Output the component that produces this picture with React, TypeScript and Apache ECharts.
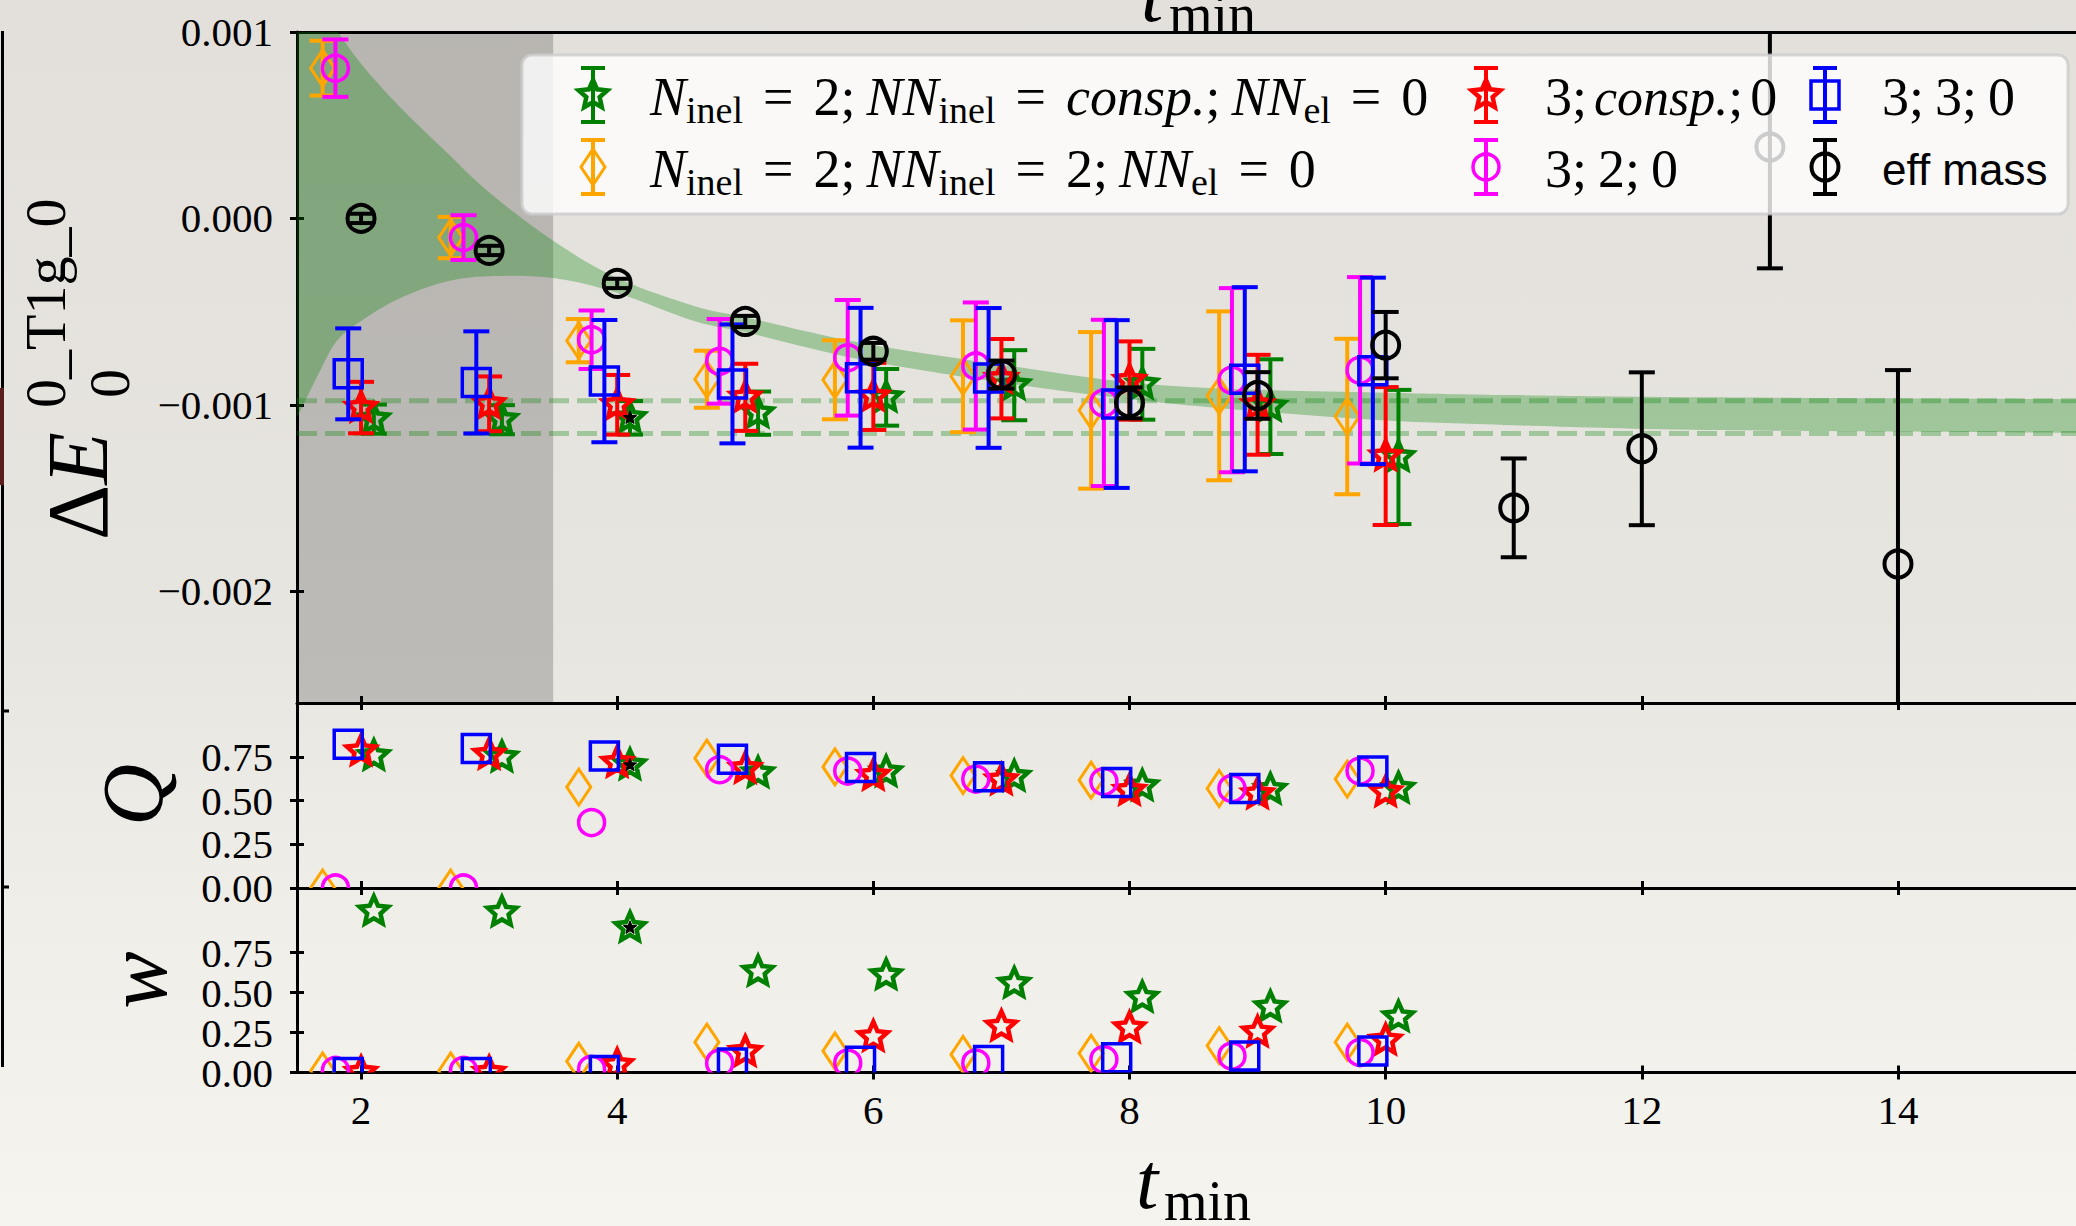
import React, { useEffect, useRef } from "react";
import * as echarts from "echarts";

// ---------------- data ----------------
const tFit = [2, 3, 4, 5, 6, 7, 8, 9, 10];
const tEff = [2, 3, 4, 5, 6, 7, 8, 9, 10, 11, 12, 13, 14];
const xTicks = [2, 4, 6, 8, 10, 12, 14];
const eTicks = [-0.002, -0.001, 0, 0.001];
const qwTicks = [0, 0.25, 0.5, 0.75];
const qwLabelsA = [0, 0.5];
const qwLabelsB = [0.25, 0.75];

// Delta E (main panel) values and errors
const eGreen = [-1.077e-3, -1.08e-3, -1.07e-3, -1.045e-3, -0.96e-3, -0.895e-3, -0.89e-3, -1.01e-3, -1.28e-3];
const errGreen = [0.078e-3, 0.078e-3, 0.09e-3, 0.116e-3, 0.152e-3, 0.188e-3, 0.19e-3, 0.254e-3, 0.36e-3];
const eOrange = [0.806e-3, -0.103e-3, -0.656e-3, -0.863e-3, -0.866e-3, -0.847e-3, -1.03e-3, -0.952e-3, -1.063e-3];
const errOrange = [0.147e-3, 0.111e-3, 0.116e-3, 0.153e-3, 0.212e-3, 0.3e-3, 0.42e-3, 0.453e-3, 0.417e-3];
const eRed = [-1.015e-3, -0.995e-3, -1.0e-3, -0.96e-3, -0.955e-3, -0.86e-3, -0.87e-3, -1.0e-3, -1.275e-3];
const errRed = [0.138e-3, 0.147e-3, 0.16e-3, 0.18e-3, 0.18e-3, 0.213e-3, 0.21e-3, 0.268e-3, 0.37e-3];
const eMagenta = [0.806e-3, -0.103e-3, -0.651e-3, -0.767e-3, -0.748e-3, -0.792e-3, -0.99e-3, -0.868e-3, -0.815e-3];
const errMagenta = [0.154e-3, 0.12e-3, 0.157e-3, 0.227e-3, 0.31e-3, 0.341e-3, 0.446e-3, 0.494e-3, 0.5e-3];
const eBlue = [-0.834e-3, -0.88e-3, -0.873e-3, -0.888e-3, -0.855e-3, -0.856e-3, -0.996e-3, -0.863e-3, -0.818e-3];
const errBlue = [0.244e-3, 0.274e-3, 0.328e-3, 0.319e-3, 0.375e-3, 0.375e-3, 0.45e-3, 0.494e-3, 0.5e-3];
const eEff = [0.0, -0.172e-3, -0.349e-3, -0.553e-3, -0.713e-3, -0.838e-3, -0.99e-3, -0.95e-3, -0.68e-3, -1.553e-3, -1.236e-3, 0.383e-3, -1.854e-3];
const errEff = [0.025e-3, 0.025e-3, 0.025e-3, 0.03e-3, 0.045e-3, 0.075e-3, 0.083e-3, 0.125e-3, 0.178e-3, 0.265e-3, 0.41e-3, 0.651e-3, 1.04e-3];

// Q panel
const qGreen = [0.757, 0.749, 0.704, 0.658, 0.664, 0.638, 0.584, 0.564, 0.57];
const qOrange = [0.0, 0.0, 0.578, 0.744, 0.694, 0.644, 0.618, 0.57, 0.624];
const qRed = [0.784, 0.764, 0.718, 0.684, 0.644, 0.618, 0.558, 0.538, 0.55];
const qMagenta = [0.0, 0.0, 0.375, 0.678, 0.67, 0.624, 0.61, 0.57, 0.67];
const qBlue = [0.823, 0.8, 0.757, 0.738, 0.69, 0.638, 0.604, 0.57, 0.67];

// w panel
const wGreen = [1.009, 1.002, 0.906, 0.631, 0.609, 0.557, 0.469, 0.409, 0.347];
const wOrange = [0.01, 0.01, 0.07, 0.19, 0.135, 0.113, 0.12, 0.168, 0.19];
const wRed = [0.0, 0.0, 0.048, 0.13, 0.223, 0.288, 0.278, 0.251, 0.201];
const wMagenta = [0.013, 0.013, 0.02, 0.059, 0.059, 0.059, 0.081, 0.103, 0.125];
const wBlue = [0.0, 0.0, 0.013, 0.06, 0.07, 0.075, 0.092, 0.103, 0.135];

// chosen fit (small black star)
const chosenT = [4];
const chosenE = [-1.07e-3];
const chosenQ = [0.704];
const chosenW = [0.906];

// fit band
const bandT = [1.5, 1.7, 1.82, 2.0, 2.3, 2.66, 3.0, 3.5, 4.0, 4.6, 5.0, 5.5, 6.0, 7.0, 8.0, 9.0, 10.0, 11.0, 12.5, 15.4];
const bandHi = [1.35e-3, 1.12e-3, 1.0e-3, 0.83e-3, 0.6e-3, 0.36e-3, 0.14e-3, -0.12e-3, -0.32e-3, -0.47e-3, -0.53e-3, -0.61e-3, -0.68e-3, -0.785e-3, -0.88e-3, -0.92e-3, -0.935e-3, -0.948e-3, -0.96e-3, -0.97e-3];
const bandLo = [-1.07e-3, -0.79e-3, -0.65e-3, -0.55e-3, -0.43e-3, -0.34e-3, -0.31e-3, -0.32e-3, -0.4e-3, -0.55e-3, -0.61e-3, -0.695e-3, -0.77e-3, -0.88e-3, -0.97e-3, -1.035e-3, -1.085e-3, -1.11e-3, -1.135e-3, -1.15e-3];
const plateau = [-0.979e-3, -1.154e-3];
const shadeRange = [1.5, 3.5];

const X_MIN = 1.5;
const X_MAX = 15.39;

// ---------------- styling ----------------
const SERIF = "Liberation Serif";
const fits = [
  { name: "N_inel = 2; NN_inel = consp.; NN_el = 0", color: "#008000", marker: "star", dx: 0.1, e: eGreen, err: errGreen, q: qGreen, w: wGreen,
    label: "{i|N}{s|inel}{e|=}{r|2;}{ip|NN}{s|inel}{e|=}{i|consp.}{r|;}{ip|NN}{s|el}{e|=}{r|0}", lx: 593, ly: 95, tx: 650 },
  { name: "N_inel = 2; NN_inel = 2; NN_el = 0", color: "#ffa500", marker: "diamond", dx: -0.3, e: eOrange, err: errOrange, q: qOrange, w: wOrange,
    label: "{i|N}{s|inel}{e|=}{r|2;}{ip|NN}{s|inel}{e|=}{r|2;}{ip|NN}{s|el}{e|=}{r|0}", lx: 593, ly: 167, tx: 650 },
  { name: "3; consp.; 0", color: "#ff0000", marker: "star", dx: 0, e: eRed, err: errRed, q: qRed, w: wRed,
    label: "{r|3;}{ic|consp.}{r|;}{rc|0}", lx: 1486, ly: 95, tx: 1545 },
  { name: "3; 2; 0", color: "#ff00ff", marker: "circle", dx: -0.2, e: eMagenta, err: errMagenta, q: qMagenta, w: wMagenta,
    label: "{r|3;}{rp|2;}{rp|0}", lx: 1486, ly: 167, tx: 1545 },
  { name: "3; 3; 0", color: "#0000ff", marker: "square", dx: -0.1, e: eBlue, err: errBlue, q: qBlue, w: wBlue,
    label: "{r|3;}{rp|3;}{rp|0}", lx: 1825, ly: 95, tx: 1882 },
];
const effEntry = { name: "eff mass", color: "#000000", marker: "circleK", label: "{sans|eff mass}", lx: 1825, ly: 167, tx: 1882 };

function starPoints(cx: number, cy: number, R: number, r: number) {
  const pts: number[][] = [];
  for (let k = 0; k < 10; k++) {
    const a = -Math.PI / 2 + (k * Math.PI) / 5;
    const rad = k % 2 === 0 ? R : r;
    pts.push([cx + rad * Math.cos(a), cy + rad * Math.sin(a)]);
  }
  return pts;
}

function markerEl(kind: string, cx: number, cy: number, color: string, z?: number) {
  const s: any = { fill: "none", stroke: color, lineWidth: 3.5 };
  let el: any;
  if (kind === "circle") el = { type: "circle", shape: { cx, cy, r: 13 }, style: s };
  else if (kind === "circleK") el = { type: "circle", shape: { cx, cy, r: 13.5 }, style: { ...s, lineWidth: 4 } };
  else if (kind === "square") el = { type: "rect", shape: { x: cx - 14, y: cy - 14, width: 28, height: 28 }, style: s };
  else if (kind === "diamond") el = { type: "polygon", shape: { points: [[cx, cy - 18], [cx + 12, cy], [cx, cy + 18], [cx - 12, cy]] }, style: { ...s, lineWidth: 3 } };
  else if (kind === "star") el = { type: "polygon", shape: { points: starPoints(cx, cy, 15, 7) }, style: { ...s, lineWidth: 4.5, lineJoin: "miter" } };
  else el = { type: "polygon", shape: { points: starPoints(cx, cy, 7, 3) }, style: { fill: "#000", stroke: "#000", lineWidth: 1 } };
  if (z != null) el.z = z;
  return el;
}

function makeRender(color: string, kind: string, withErr: boolean) {
  return (params: any, api: any) => {
    const x = api.value(0);
    const y = api.value(1);
    const c = api.coord([x, y]);
    const cs = params.coordSys;
    const children: any[] = [];
    if (withErr) {
      const e = api.value(2);
      const pt = api.coord([x, y + e]);
      const pb = api.coord([x, y - e]);
      const top = Math.max(cs.y, pt[1]);
      const bot = Math.min(cs.y + cs.height, pb[1]);
      const ls = { stroke: color, lineWidth: 4 };
      children.push({ type: "line", shape: { x1: c[0], y1: top, x2: c[0], y2: bot }, style: ls });
      if (pt[1] >= cs.y) children.push({ type: "line", shape: { x1: c[0] - 13, y1: pt[1], x2: c[0] + 13, y2: pt[1] }, style: ls });
      if (pb[1] <= cs.y + cs.height) children.push({ type: "line", shape: { x1: c[0] - 13, y1: pb[1], x2: c[0] + 13, y2: pb[1] }, style: ls });
    }
    children.push(markerEl(kind, c[0], c[1], color));
    return { type: "group", children };
  };
}

function smoothSegs(pts: number[][]) {
  let d = "";
  for (let i = 0; i < pts.length - 1; i++) {
    const p0 = pts[i - 1] || pts[i];
    const p1 = pts[i];
    const p2 = pts[i + 1];
    const p3 = pts[i + 2] || pts[i + 1];
    const c1 = [p1[0] + (p2[0] - p0[0]) / 6, p1[1] + (p2[1] - p0[1]) / 6];
    const c2 = [p2[0] - (p3[0] - p1[0]) / 6, p2[1] - (p3[1] - p1[1]) / 6];
    d += ` C${c1[0]},${c1[1]} ${c2[0]},${c2[1]} ${p2[0]},${p2[1]}`;
  }
  return d;
}

function bandRender(params: any, api: any) {
  if (params.dataIndex !== 0) return null;
  const up = bandT.map((t, i) => api.coord([t, bandHi[i]]));
  const lo = bandT.map((t, i) => api.coord([t, bandLo[i]])).reverse();
  let d = `M${up[0][0]},${up[0][1]}` + smoothSegs(up);
  d += ` L${lo[0][0]},${lo[0][1]}` + smoothSegs(lo) + " Z";
  return { type: "path", shape: { pathData: d }, style: { fill: "rgba(0,128,0,0.3)", stroke: "none" } };
}

const lineStyleK = { color: "#000", width: 3 };

function mkX(gridIndex: number, position: string, showLine: boolean, tick: string, showLabel: boolean) {
  return {
    type: "value", gridIndex, position, min: X_MIN, max: X_MAX,
    splitLine: { show: false },
    axisLine: { show: showLine, onZero: false, lineStyle: lineStyleK },
    axisTick: { show: tick !== "none", inside: tick === "in", length: 7, customValues: xTicks, lineStyle: lineStyleK },
    axisLabel: {
      show: showLabel, customValues: xTicks, margin: 17, color: "#000", fontFamily: SERIF, fontSize: 41,
      showMinLabel: true, showMaxLabel: true, hideOverlap: false, interval: 0,
      formatter: (v: number) => String(v),
    },
  };
}

function mkY(gridIndex: number, min: number, max: number, ticks: number[], tick: string, labels: number[] | null, fmt: any) {
  return {
    type: "value", gridIndex, position: "left", min, max,
    splitLine: { show: false },
    axisLine: { show: tick === "out", onZero: false, lineStyle: lineStyleK },
    axisTick: { show: true, inside: tick === "in", length: 7, customValues: ticks, lineStyle: lineStyleK },
    axisLabel: {
      show: !!labels, customValues: labels || ticks, inside: false, margin: 24, color: "#000", fontFamily: SERIF, fontSize: 41,
      showMinLabel: true, showMaxLabel: true, hideOverlap: false, interval: 0, formatter: fmt,
    },
  };
}

const fmtE = (v: number) => (Math.abs(v) < 1e-12 ? "0.000" : (v < 0 ? "\u2212" : "") + Math.abs(v).toFixed(3));
const fmtQ = (v: number) => v.toFixed(2);

function buildOption() {
  const series: any[] = [];

  // dashed plateau lines + shaded excluded region
  plateau.forEach((p, k) => {
    series.push({
      type: "line", xAxisIndex: 0, yAxisIndex: 0, silent: true, symbol: "none", showSymbol: false,
      data: [[X_MIN, p], [X_MAX, p]],
      lineStyle: { color: "rgba(0,128,0,0.3)", width: 5, type: [20, 8] },
      z: 2,
      markArea: k === 0 ? {
        silent: true, itemStyle: { color: "rgba(0,0,0,0.19)" },
        data: [[{ xAxis: shadeRange[0] }, { xAxis: shadeRange[1] }]],
      } : undefined,
    });
  });

  // fit band
  series.push({
    type: "custom", name: "fit band", xAxisIndex: 0, yAxisIndex: 0, clip: true, silent: true, z: 2,
    data: bandT.map((t, i) => [t, bandHi[i], bandLo[i]]),
    encode: { x: 0, y: 1 },
    renderItem: bandRender,
  });

  fits.forEach((f) => {
    series.push({
      type: "custom", name: f.name, xAxisIndex: 0, yAxisIndex: 0, clip: true, silent: true, z: 3,
      data: tFit.map((t, i) => [t + f.dx, f.e[i], f.err[i]]), encode: { x: 0, y: 1 },
      renderItem: makeRender(f.color, f.marker, true),
    });
    series.push({
      type: "custom", name: f.name + " Q", xAxisIndex: 3, yAxisIndex: 2, clip: true, silent: true, z: 3,
      data: tFit.map((t, i) => [t + f.dx, f.q[i]]), encode: { x: 0, y: 1 },
      renderItem: makeRender(f.color, f.marker, false),
    });
    series.push({
      type: "custom", name: f.name + " w", xAxisIndex: 5, yAxisIndex: 4, clip: true, silent: true, z: 3,
      data: tFit.map((t, i) => [t + f.dx, f.w[i]]), encode: { x: 0, y: 1 },
      renderItem: makeRender(f.color, f.marker, false),
    });
  });

  series.push({
    type: "custom", name: "eff mass", xAxisIndex: 0, yAxisIndex: 0, clip: true, silent: true, z: 3,
    data: tEff.map((t, i) => [t, eEff[i], errEff[i]]), encode: { x: 0, y: 1 },
    renderItem: makeRender("#000000", "circleK", true),
  });

  const chosenDx = fits[0].dx;
  [[0, 0, chosenE], [3, 2, chosenQ], [5, 4, chosenW]].forEach(([xi, yi, vals]: any) => {
    series.push({
      type: "custom", name: "chosen", xAxisIndex: xi, yAxisIndex: yi, clip: true, silent: true, z: 4,
      data: chosenT.map((t, i) => [t + chosenDx, vals[i]]), encode: { x: 0, y: 1 },
      renderItem: makeRender("#000", "dot", false),
    });
  });

  // ---------- graphic: labels, legend, frame remnants ----------
  const graphic: any[] = [];
  const txt = (x: number, y: number, text: string, rich: any, rot: number, align: string) => ({
    type: "text", x, y, rotation: rot, z: 50, silent: true,
    style: { text, rich, fill: "#000", fontFamily: SERIF, fontSize: 40, align, verticalAlign: "middle", textAlign: align, textVerticalAlign: "middle" },
  });
  const R = (size: number, italic?: boolean, lh?: number) => ({ fontFamily: SERIF, fontSize: size, fontStyle: italic ? "italic" : "normal", fill: "#000", lineHeight: lh });

  // y label Delta E
  graphic.push(txt(78, 540, "{d|\u0394}{e|E}", { d: R(86), e: R(86, true) }, Math.PI / 2, "left"));
  graphic.push(txt(45, 408, "{a|0_T1g_0}", { a: R(58) }, Math.PI / 2, "left"));
  graphic.push(txt(109, 398, "{a|0}", { a: R(58) }, Math.PI / 2, "left"));
  // Q and w labels
  graphic.push(txt(133, 795, "{a|Q}", { a: R(86, true, 60) }, Math.PI / 2, "center"));
  graphic.push(txt(137, 980, "{a|w}", { a: R(86, true, 60) }, Math.PI / 2, "center"));
  // x labels (bottom and cut top copy)
  graphic.push(txt(1136, 1181, "{a|t}", { a: R(80, true) }, 0, "left"));
  graphic.push(txt(1164, 1201, "{a|min}", { a: R(56) }, 0, "left"));
  graphic.push(txt(1141, -6, "{a|t}", { a: R(80, true) }, 0, "left"));
  graphic.push(txt(1169, 14, "{a|min}", { a: R(56) }, 0, "left"));

  // remnant of neighbouring panel frame on the far left
  graphic.push({ type: "line", z: 50, shape: { x1: 2.5, y1: 31, x2: 2.5, y2: 1067 }, style: { stroke: "#000", lineWidth: 3 } });
  graphic.push({ type: "line", z: 50, shape: { x1: 2, y1: 711, x2: 9, y2: 711 }, style: { stroke: "#000", lineWidth: 3 } });
  graphic.push({ type: "line", z: 50, shape: { x1: 2, y1: 887, x2: 9, y2: 887 }, style: { stroke: "#000", lineWidth: 3 } });
  graphic.push({ type: "rect", z: 51, shape: { x: 0, y: 388, width: 4, height: 97 }, style: { fill: "#5c1d1d" } });

  // legend
  const Z = 100;
  graphic.push({
    type: "rect", z: Z, silent: true, shape: { x: 522, y: 55, width: 1546, height: 159, r: 10 },
    style: { fill: "rgba(255,255,255,0.8)", stroke: "rgba(204,204,204,0.8)", lineWidth: 3 },
  });
  const legRich = {
    i: { fontFamily: SERIF, fontStyle: "italic", fontSize: 54, lineHeight: 64, fill: "#000" },
    ip: { fontFamily: SERIF, fontStyle: "italic", fontSize: 54, lineHeight: 64, fill: "#000", padding: [0, 0, 0, 11] },
    ic: { fontFamily: SERIF, fontStyle: "italic", fontSize: 52, lineHeight: 64, fill: "#000", padding: [0, 0, 0, 7] },
    r: { fontFamily: SERIF, fontSize: 54, lineHeight: 64, fill: "#000" },
    rp: { fontFamily: SERIF, fontSize: 54, lineHeight: 64, fill: "#000", padding: [0, 0, 0, 11] },
    rc: { fontFamily: SERIF, fontSize: 54, lineHeight: 64, fill: "#000", padding: [0, 0, 0, 7] },
    e: { fontFamily: SERIF, fontSize: 54, lineHeight: 64, fill: "#000", padding: [0, 20, 0, 20] },
    s: { fontFamily: SERIF, fontSize: 38, lineHeight: 30, verticalAlign: "bottom", fill: "#000" },
    sans: { fontFamily: "Liberation Sans", fontSize: 44, lineHeight: 64, fill: "#000" },
  };
  [...fits, effEntry].forEach((f: any) => {
    const ls = { stroke: f.color, lineWidth: 4 };
    graphic.push({ type: "line", z: Z + 1, silent: true, shape: { x1: f.lx, y1: f.ly - 27, x2: f.lx, y2: f.ly + 27 }, style: ls });
    graphic.push({ type: "line", z: Z + 1, silent: true, shape: { x1: f.lx - 12, y1: f.ly - 27, x2: f.lx + 12, y2: f.ly - 27 }, style: ls });
    graphic.push({ type: "line", z: Z + 1, silent: true, shape: { x1: f.lx - 12, y1: f.ly + 27, x2: f.lx + 12, y2: f.ly + 27 }, style: ls });
    const m = markerEl(f.marker, f.lx, f.ly, f.color, Z + 2);
    m.silent = true;
    graphic.push(m);
    graphic.push({
      type: "text", x: f.tx, y: f.ly + 2, z: Z + 2, silent: true,
      style: { text: f.label, rich: legRich, fill: "#000", fontFamily: SERIF, fontSize: 54, align: "left", verticalAlign: "middle", textAlign: "left", textVerticalAlign: "middle" },
    });
  });

  return {
    animation: false,
    backgroundColor: "transparent",
    grid: [
      { left: 297, top: 32, width: 1784, height: 671 },
      { left: 297, top: 703, width: 1784, height: 185 },
      { left: 297, top: 888, width: 1784, height: 184.5 },
    ],
    xAxis: [
      mkX(0, "bottom", true, "out", false),
      mkX(0, "bottom", false, "in", false),
      mkX(0, "top", true, "none", false),
      mkX(1, "bottom", true, "out", false),
      mkX(1, "bottom", false, "in", false),
      mkX(2, "bottom", true, "out", true),
      mkX(2, "bottom", false, "in", false),
    ],
    yAxis: [
      mkY(0, -0.0026, 0.001, eTicks, "out", eTicks, fmtE),
      mkY(0, -0.0026, 0.001, eTicks, "in", null, fmtE),
      mkY(1, 0, 1.06, qwTicks, "out", qwLabelsA, fmtQ),
      mkY(1, 0, 1.06, qwTicks, "in", qwLabelsB, fmtQ),
      mkY(2, 0, 1.155, qwTicks, "out", qwLabelsA, fmtQ),
      mkY(2, 0, 1.155, qwTicks, "in", qwLabelsB, fmtQ),
    ],
    series,
    graphic,
  };
}

export default function App() {
  const ref = useRef<HTMLDivElement>(null);
  useEffect(() => {
    const chart = echarts.init(ref.current as HTMLDivElement, null, { renderer: "svg" });
    chart.setOption(buildOption() as any);
    return () => chart.dispose();
  }, []);
  return (
    <div
      ref={ref}
      style={{
        position: "fixed", left: 0, top: 0, width: 2076, height: 1226, overflow: "hidden",
        background: "linear-gradient(to bottom, #e3e0db 0%, #e7e5e0 50%, #f0eee9 75%, #f6f4ef 100%)",
      }}
    />
  );
}
